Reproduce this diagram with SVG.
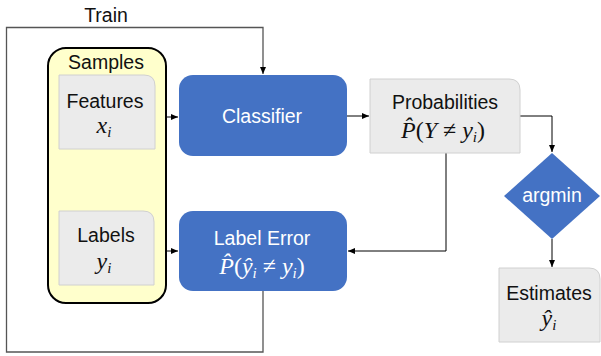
<svg xmlns="http://www.w3.org/2000/svg" width="601" height="356" viewBox="0 0 601 356">
<defs>
<marker id="ah" markerWidth="8" markerHeight="8" refX="7" refY="4" orient="auto" markerUnits="userSpaceOnUse">
<path d="M0,1 L7,4 L0,7 Z" fill="#000"/>
</marker>
<style>
.lbl{font-family:"Liberation Sans",Arial,sans-serif;font-size:19.5px;text-anchor:middle;fill:#111}
.wl{font-family:"Liberation Sans",Arial,sans-serif;font-size:19.5px;text-anchor:middle;fill:#fff}
.m{font-family:"Liberation Serif","DejaVu Serif",serif;font-style:italic;font-size:24px;text-anchor:middle;fill:#111}
.mw{font-family:"Liberation Serif","DejaVu Serif",serif;font-style:italic;font-size:24px;text-anchor:middle;fill:#fff}
.sub{font-size:15px}
.up{font-style:normal}
.blue{fill:#4472C4}
.grey{fill:#EBEBEB;stroke:#D0D0D0;stroke-width:1}
.conn{fill:none;stroke:#000;stroke-width:1}
.frame{fill:none;stroke:#555;stroke-width:1.3}
</style>
</defs>
<g id="connectors">
<path class="frame" d="M263,291 V352 H6.5 V27.5 H263 V74" marker-end="url(#ah)"/>
<path class="conn" d="M155,117 H178" marker-end="url(#ah)"/>
<path class="conn" d="M155,251 H178" marker-end="url(#ah)"/>
<path class="conn" d="M347,116 H369" marker-end="url(#ah)"/>
<path class="conn" d="M520,116 H552 V152" marker-end="url(#ah)"/>
<path class="conn" d="M446,153 V251 H348" marker-end="url(#ah)"/>
<path class="conn" d="M552,239 V267" marker-end="url(#ah)"/>
</g>
<g id="train">
<text class="lbl" x="106" y="22">Train</text>
</g>
<g id="samples">
<rect x="48" y="48" width="118" height="255" rx="18" fill="#FFFFCC" stroke="#000" stroke-width="2"/>
<text class="lbl" x="106" y="69">Samples</text>
</g>
<g id="features">
<path class="grey" d="M59,75 H144 Q155,75 155,86 V149 H59 Z"/>
<text class="lbl" x="105" y="108">Features</text>
<text class="m" x="104" y="133">x<tspan class="sub" dy="4">i</tspan></text>
</g>
<g id="labels">
<path class="grey" d="M59,211 H143 Q154,211 154,222 V285 H59 Z"/>
<text class="lbl" x="106" y="242">Labels</text>
<text class="m" x="104" y="269">y<tspan class="sub" dy="4">i</tspan></text>
</g>
<g id="classifier">
<rect class="blue" x="179" y="75" width="168" height="81" rx="14"/>
<text class="wl" x="262" y="123">Classifier</text>
</g>
<g id="labelerror">
<rect class="blue" x="179" y="211" width="168" height="80" rx="14"/>
<text class="wl" x="262" y="245">Label Error</text>
<text class="mw" x="262" y="274">P̂<tspan class="up">(</tspan>ŷ<tspan class="sub" dy="4">i</tspan><tspan dy="-4" class="up"> ≠ </tspan>y<tspan class="sub" dy="4">i</tspan><tspan dy="-4" class="up">)</tspan></text>
</g>
<g id="probabilities">
<path class="grey" d="M370,79 H509 Q520,79 520,90 V153 H370 Z"/>
<text class="lbl" x="445" y="109">Probabilities</text>
<text class="m" x="443" y="138">P̂<tspan class="up">(</tspan>Y<tspan class="up"> ≠ </tspan>y<tspan class="sub" dy="4">i</tspan><tspan dy="-4" class="up">)</tspan></text>
</g>
<g id="argmin">
<path class="blue" d="M552,153 L600,196 L552,239 L504,196 Z"/>
<text class="wl" x="552" y="202">argmin</text>
</g>
<g id="estimates">
<path class="grey" d="M499,268 H589 Q600,268 600,279 V342 H499 Z"/>
<text class="lbl" x="549" y="300">Estimates</text>
<text class="m" x="549" y="326">ŷ<tspan class="sub" dy="4">i</tspan></text>
</g>
</svg>
